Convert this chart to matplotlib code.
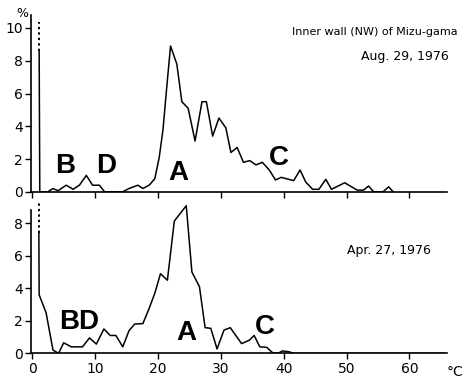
import matplotlib
matplotlib.use("Agg")
import matplotlib.pyplot as plt

# Aug. 29, 1976 (upper panel): temperature (deg C) vs. percentage
aug_temp = [1.1, 1.2, 2.5, 3.3, 4.1, 5.4, 6.5, 7.5, 8.6, 9.6, 10.7, 11.5,
            14.4, 15.4, 16.8, 17.6, 18.6, 19.5, 20.2, 20.8, 21.4, 22.0,
            23.0, 23.8, 24.8, 25.9, 27.0, 27.7, 28.7, 29.7, 30.8, 31.6,
            32.6, 33.6, 34.6, 35.6, 36.6, 37.7, 38.7, 39.6, 41.6, 42.6,
            43.5, 44.6, 45.6, 46.7, 47.6, 49.7, 51.7, 52.7, 53.5, 54.3,
            55.8, 56.7, 57.4]
aug_pct = [8.6, 0.0, 0.0, 0.2, 0.06, 0.4, 0.15, 0.4, 1.0, 0.4, 0.4, 0.0,
           0.0, 0.2, 0.4, 0.2, 0.4, 0.8, 2.1, 3.8, 6.4, 8.9,
           7.8, 5.5, 5.1, 3.1, 5.5, 5.5, 3.4, 4.5, 3.9, 2.4,
           2.7, 1.8, 1.9, 1.64, 1.8, 1.33, 0.72, 0.88, 0.68, 1.33,
           0.6, 0.15, 0.15, 0.76, 0.15, 0.55, 0.1, 0.1, 0.35, 0.0,
           0.0, 0.3, 0.0]
aug_off = [8.6, 10.35]   # off-scale part of the first class (dotted)

# Apr. 27, 1976 (lower panel)
apr_temp = [1.05, 1.1, 2.2, 3.3, 4.2, 5.0, 6.2, 8.0, 9.1, 10.2, 11.4, 12.4,
            13.3, 14.4, 15.4, 16.3, 17.6, 18.6, 19.5, 20.4, 21.5, 22.6,
            24.5, 25.4, 26.6, 27.5, 28.4, 29.4, 30.5, 31.5, 33.3, 34.5,
            35.3, 36.2, 37.3, 38.2, 39.1, 39.8, 40.8, 41.6, 65.5]
apr_pct = [7.4, 3.6, 2.5, 0.2, 0.0, 0.65, 0.4, 0.4, 0.95, 0.57, 1.5, 1.1,
           1.1, 0.4, 1.4, 1.8, 1.83, 2.77, 3.7, 4.9, 4.5, 8.14,
           9.08, 5.0, 4.1, 1.58, 1.54, 0.27, 1.43, 1.58, 0.6, 0.8,
           1.1, 0.4, 0.37, 0.05, 0.0, 0.15, 0.1, 0.0, 0.0]
apr_off = [7.4, 9.3]

fig = plt.figure(figsize=(4.66, 3.82), dpi=100)
ax1 = fig.add_axes([0.0665, 0.498, 0.893, 0.463])
ax2 = fig.add_axes([0.0665, 0.075, 0.893, 0.400])

for ax in (ax1, ax2):
    for s in ("top", "right"):
        ax.spines[s].set_visible(False)
    ax.spines["left"].set_linewidth(1.2)
    ax.spines["bottom"].set_linewidth(1.2)
    ax.set_xlim(-0.2, 66)
    ax.set_xticks(range(0, 61, 10))
    ax.tick_params(length=4, width=1.0, labelsize=10, pad=2)

ax1.plot(aug_temp, aug_pct, color="black", lw=1.1)
ax1.plot([aug_temp[0]] * 2, aug_off, color="black", lw=1.4, ls=(0, (1.2, 1.6)))
ax1.set_ylim(0, 10.8)
ax1.set_yticks(range(0, 11, 2))
ax1.tick_params(axis="x", labelbottom=False)

ax2.plot(apr_temp, apr_pct, color="black", lw=1.1)
ax2.plot([apr_temp[0]] * 2, apr_off, color="black", lw=1.4, ls=(0, (1.2, 1.6)))
ax2.set_ylim(0, 9.4)
ax2.set_yticks(range(0, 9, 2))
ax2.spines["left"].set_bounds(0, 8.8)

big = dict(fontsize=20, fontweight="bold", family="Liberation Sans",
           ha="center", va="center")
ax1.text(5.3, 1.6, "B", **big)
ax1.text(11.7, 1.6, "D", **big)
ax1.text(23.2, 1.15, "A", **big)
ax1.text(39.3, 2.05, "C", **big)
ax2.text(7.5, 1.95, "BD", **big)
ax2.text(24.5, 1.25, "A", **big)
ax2.text(37.0, 1.65, "C", **big)

fig.text(0.982, 0.915, "Inner wall (NW) of Mizu-gama", fontsize=8,
         ha="right", va="center")
fig.text(0.962, 0.853, "Aug. 29, 1976", fontsize=9, ha="right", va="center")
fig.text(0.925, 0.345, "Apr. 27, 1976", fontsize=9, ha="right", va="center")
fig.text(0.047, 0.965, "%", fontsize=9, ha="center", va="center")
fig.text(0.976, 0.027, "°C", fontsize=10, ha="center", va="center")

fig.savefig("out.png", dpi=100)
